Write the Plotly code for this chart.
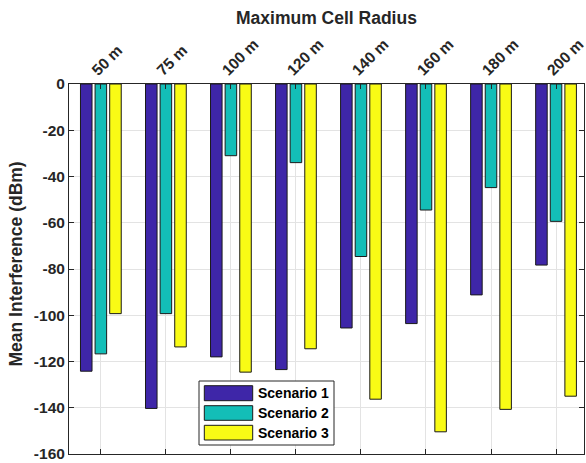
import plotly.graph_objects as go

categories = ["50 m", "75 m", "100 m", "120 m", "140 m", "160 m", "180 m", "200 m"]
scenario_names = ["Scenario 1", "Scenario 2", "Scenario 3"]
scenario1 = [-124.2, -140.3, -118.0, -123.5, -105.5, -103.6, -91.2, -78.3]
scenario2 = [-116.7, -99.3, -31.0, -34.0, -74.6, -54.5, -44.8, -59.4]
scenario3 = [-99.3, -113.7, -124.6, -114.5, -136.3, -150.4, -140.7, -135.0]
y_ticks = [0, -20, -40, -60, -80, -100, -120, -140, -160]

colors = ["#3E26A8", "#13BEB7", "#F9FB15"]
FONT = "Liberation Sans, Arial, sans-serif"
AXC = "#262626"

W, H = 586, 463
L, R, T, B = 69, 2, 84, 9

fig = go.Figure()
for name, vals, col in zip(scenario_names, [scenario1, scenario2, scenario3], colors):
    fig.add_trace(go.Bar(x=categories, y=vals, name=name, marker=dict(color=col, line=dict(color="#1a1a1a", width=1)), showlegend=False))

fig.update_layout(
    width=W, height=H,
    margin=dict(l=L, r=R, t=T, b=B, autoexpand=False),
    paper_bgcolor="white", plot_bgcolor="white",
    barmode="group", bargap=0.326, bargroupgap=0.21,
    font=dict(family=FONT, color=AXC),
)
fig.update_xaxes(
    side="top", tickangle=-45, range=[-0.49, 7.43],
    ticklabelshift=-8, ticklabelstandoff=-2,
    showgrid=True, gridcolor="#e3e3e3", gridwidth=1,
    showline=True, linecolor=AXC, linewidth=1, mirror="ticks",
    ticks="inside", ticklen=5, tickcolor=AXC,
    tickfont=dict(family=FONT, size=15.5, color=AXC, weight="bold"),
)
fig.update_yaxes(
    range=[-160, 0], tickvals=y_ticks, ticktext=[str(v) for v in y_ticks],
    showgrid=True, gridcolor="#e3e3e3", gridwidth=1, zeroline=False,
    showline=True, linecolor=AXC, linewidth=1, mirror="ticks",
    ticks="inside", ticklen=5, tickcolor=AXC,
    tickfont=dict(family=FONT, size=15.5, color=AXC, weight="bold"),
)

# titles
fig.add_annotation(text="<b>Maximum Cell Radius</b>", xref="paper", yref="paper", x=0.5, y=1,
                   yshift=84 - 18, xanchor="center", yanchor="middle", showarrow=False,
                   font=dict(family=FONT, size=17.5, color=AXC))
fig.add_annotation(text="<b>Mean Interference (dBm)</b>", xref="paper", yref="paper", x=0, y=1 - (264.5 - T) / (H - T - B),
                   xshift=15 - L, xanchor="center", yanchor="middle", textangle=-90, showarrow=False,
                   font=dict(family=FONT, size=17.5, color=AXC))

# custom legend (paper coordinates)
pw, ph = W - L - R, H - T - B
def px(x): return (x - L) / pw
def py(y): return 1 - (y - T) / ph

fig.add_shape(type="rect", xref="paper", yref="paper", x0=px(199), x1=px(334), y0=py(445), y1=py(381),
              fillcolor="white", line=dict(color=AXC, width=1), layer="above")
rows = [(385.7, 400.7), (405.7, 420.3), (425.3, 440)]
for (y0, y1), name, col in zip(rows, scenario_names, colors):
    fig.add_shape(type="rect", xref="paper", yref="paper", x0=px(204.3), x1=px(252.7), y0=py(y1), y1=py(y0),
                  fillcolor=col, line=dict(color="#1a1a1a", width=1), layer="above")
    fig.add_annotation(text="<b>" + name + "</b>", xref="paper", yref="paper", x=px(256), y=py((y0 + y1) / 2),
                       xanchor="left", yanchor="middle", showarrow=False,
                       font=dict(family=FONT, size=14, color="black"))

fig.write_html("out.html")
